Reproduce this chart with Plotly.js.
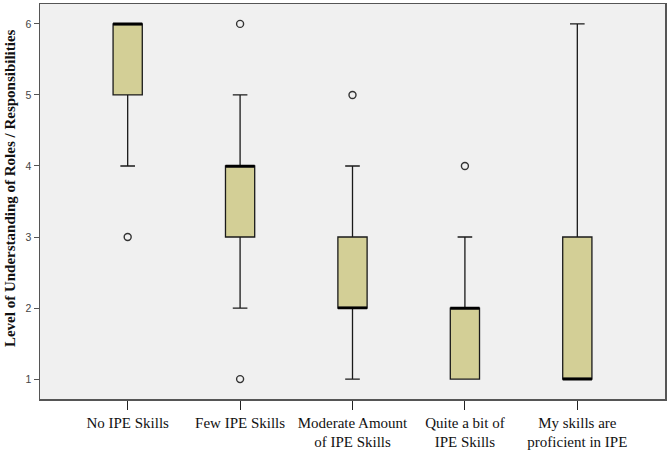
<!DOCTYPE html>
<html>
<head>
<meta charset="utf-8">
<script src="https://cdn.plot.ly/plotly-3.0.1.min.js"></script>
<style>html,body{margin:0;padding:0;background:#fff;}#chart{width:667px;height:453px;}</style>
</head>
<body>
<div id="chart"></div>
<script>
// Skill-level groups and their box statistics
const categories = ["No IPE Skills", "Few IPE Skills", "Moderate Amount of IPE Skills", "Quite a bit of IPE Skills", "My skills are proficient in IPE"];
// Category labels as they are wrapped under the axis
const tickLabels = ["No IPE Skills", "Few IPE Skills", "Moderate Amount<br>of IPE Skills", "Quite a bit of<br>IPE Skills", "My skills are<br>proficient in IPE"];
const q1 = [5, 3, 2, 1, 1];
const medians = [6, 4, 2, 2, 1];
const q3 = [6, 4, 3, 2, 3];
const lowerWhisker = [4, 2, 1, 1, 1];
const upperWhisker = [6, 5, 4, 3, 6];
// Outlying responses
const outlierGroup = [0, 1, 1, 2, 3];
const outlierValues = [3, 6, 1, 5, 4];
const yTicks = [1, 2, 3, 4, 5, 6];
const yTitle = "Level of Understanding of Roles / Responsibilities";

const serif = "'Liberation Serif', 'Times New Roman', serif";

const boxes = {
  type: "box",
  x: categories,
  q1: q1,
  median: medians,
  q3: q3,
  lowerfence: lowerWhisker,
  upperfence: upperWhisker,
  width: 0.26,
  whiskerwidth: 0.5,
  fillcolor: "#d3cf96",
  line: {color: "#1a1a1a", width: 1.3},
  boxpoints: false,
  hoverinfo: "skip",
  showlegend: false
};

// Heavier median bar drawn as a zero-height box at each median
const medianBars = {
  type: "box",
  x: categories,
  q1: medians,
  median: medians,
  q3: medians,
  lowerfence: medians,
  upperfence: medians,
  width: 0.26,
  whiskerwidth: 0,
  fillcolor: "rgba(0,0,0,0)",
  line: {color: "#000", width: 2.6},
  boxpoints: false,
  hoverinfo: "skip",
  showlegend: false
};

const outliers = {
  type: "scatter",
  mode: "markers",
  x: outlierGroup.map(i => categories[i]),
  y: outlierValues,
  marker: {symbol: "circle-open", size: 7, color: "#333", line: {width: 1.4, color: "#333"}},
  hoverinfo: "skip",
  showlegend: false
};

const titleAnnotation = {
  text: "<b>" + yTitle + "</b>",
  textangle: -90,
  xref: "paper",
  yref: "paper",
  x: -0.048,
  y: 0.534,
  xanchor: "center",
  yanchor: "middle",
  showarrow: false,
  font: {family: serif, size: 15, color: "#111"}
};

const layout = {
  width: 667,
  height: 453,
  margin: {l: 40, r: 2, t: 4, b: 54},
  paper_bgcolor: "#ffffff",
  plot_bgcolor: "#f0f0f0",
  boxmode: "overlay",
  showlegend: false,
  xaxis: {
    type: "category",
    range: [-0.78, 4.78],
    tickvals: categories,
    ticktext: tickLabels,
    showgrid: false,
    zeroline: false,
    showline: true,
    mirror: true,
    linecolor: "#555",
    linewidth: 1.5,
    ticks: "outside",
    ticklen: 9,
    tickwidth: 1,
    tickcolor: "#222",
    tickfont: {family: serif, size: 15, color: "#111"}
  },
  yaxis: {
    range: [0.72, 6.28],
    tickvals: yTicks,
    showgrid: false,
    zeroline: false,
    showline: true,
    mirror: true,
    linecolor: "#555",
    linewidth: 1.5,
    ticks: "outside",
    ticklen: 5,
    tickwidth: 1,
    tickcolor: "#555",
    tickfont: {family: "'Liberation Sans', Arial, sans-serif", size: 10.5, color: "#444"}
  },
  annotations: [titleAnnotation]
};

Plotly.newPlot("chart", [boxes, medianBars, outliers], layout, {displayModeBar: false, staticPlot: true});
</script>
</body>
</html>
